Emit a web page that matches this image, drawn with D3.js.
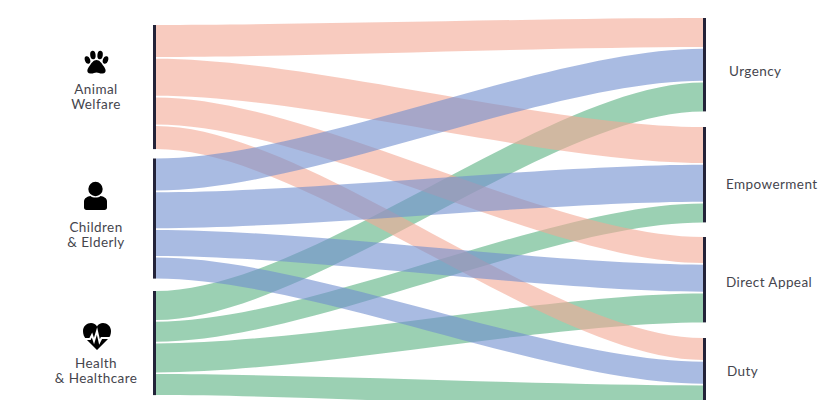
<!DOCTYPE html>
<html>
<head>
<meta charset="utf-8">
<script src="https://cdn.jsdelivr.net/npm/d3@7"></script>
<style>
  html, body { margin: 0; padding: 0; background: #fff; }
  text { font-family: Lato, sans-serif; font-size: 13.5px; fill: #45454d; letter-spacing: 0.42px; }
</style>
</head>
<body>
<div id="chart"></div>
<script>
var causes = ["Animal Welfare", "Children & Elderly", "Health & Healthcare"];
var causeLines = [["Animal", "Welfare"], ["Children", "& Elderly"], ["Health", "& Healthcare"]];
var appeals = ["Urgency", "Empowerment", "Direct Appeal", "Duty"];

// share of each cause going to each appeal, measured at the cause end (rows = cause)
var causeShares = [
  [32, 37, 27, 23],
  [32, 36, 26, 21],
  [29, 20, 29, 21]
];
// same flows measured at the appeal end (rows = cause too)
var appealShares = [
  [29, 36, 26, 22],
  [32, 37, 27, 22],
  [29, 19, 29, 24]
];

var colors = ["#f3a894", "#708ecf", "#58b180"];
var width = 840, height = 400;

var xLeft = 156, xRight = 703;
var y = d3.scaleLinear().domain([0, 1]).range([0, 1]); // one share unit = one pixel
var linkGap = 1.7;
var causeStart = [25, 158.5, 291];
var appealStart = [18, 127, 237, 338];

var svg = d3.select("#chart").append("svg")
    .attr("width", width)
    .attr("height", height)
    .style("display", "block");

// stack every flow at the cause end
var flows = [];
causes.forEach(function(c, i){
  var pos = causeStart[i];
  appeals.forEach(function(a, j){
    var h = y(causeShares[i][j]);
    flows.push({cause: i, appeal: j, y0: pos, y1: pos + h});
    pos += h + linkGap;
  });
});
// and at the appeal end
appeals.forEach(function(a, j){
  var pos = appealStart[j];
  causes.forEach(function(c, i){
    var h = y(appealShares[i][j]);
    var f = flows.find(function(d){ return d.cause == i && d.appeal == j; });
    f.t0 = pos;
    f.t1 = pos + h;
    pos += h + linkGap;
  });
});

function ribbon(d){
  var k = (xRight - xLeft) * 0.28;
  var p = d3.path();
  p.moveTo(xLeft, d.y0);
  p.bezierCurveTo(xLeft + k, d.y0, xRight - k, d.t0, xRight, d.t0);
  p.lineTo(xRight, d.t1);
  p.bezierCurveTo(xRight - k, d.t1, xLeft + k, d.y1, xLeft, d.y1);
  p.closePath();
  return p.toString();
}

// green goes under, then pink, then blue
var drawOrder = [2, 0, 1];
svg.append("g").selectAll("path")
  .data(flows.slice().sort(function(a, b){ return drawOrder.indexOf(a.cause) - drawOrder.indexOf(b.cause); }))
  .join("path")
    .attr("d", ribbon)
    .attr("fill", function(d){ return colors[d.cause]; })
    .attr("fill-opacity", 0.6);

// node bars
var barColor = "#232339";
var causeBars = causes.map(function(c, i){
  var f = flows.filter(function(d){ return d.cause == i; });
  return [d3.min(f, function(d){ return d.y0; }), d3.max(f, function(d){ return d.y1; })];
});
var appealBars = appeals.map(function(a, j){
  var f = flows.filter(function(d){ return d.appeal == j; });
  return [d3.min(f, function(d){ return d.t0; }), d3.max(f, function(d){ return d.t1; })];
});
svg.append("g").selectAll("rect").data(causeBars).join("rect")
    .attr("x", xLeft - 3).attr("width", 3)
    .attr("y", function(d){ return d[0]; })
    .attr("height", function(d){ return d[1] - d[0]; })
    .attr("fill", barColor);
svg.append("g").selectAll("rect").data(appealBars).join("rect")
    .attr("x", xRight).attr("width", 3)
    .attr("y", function(d){ return d[0]; })
    .attr("height", function(d){ return d[1] - d[0]; })
    .attr("fill", barColor);

// left labels
var causeLabelY = [94, 232, 368];
causes.forEach(function(c, i){
  var t = svg.append("text").attr("text-anchor", "middle");
  causeLines[i].forEach(function(line, n){
    t.append("tspan").attr("x", 96).attr("y", causeLabelY[i] + n * 14.5).text(line);
  });
});

// right labels
var appealLabelX = [729, 726, 726, 727];
var appealLabelY = [76, 189, 287, 376];
appeals.forEach(function(a, j){
  svg.append("text")
      .attr("x", appealLabelX[j])
      .attr("y", appealLabelY[j])
      .text(a);
});

// icons
var paw = svg.append("g").attr("transform", "translate(96.5,62)").attr("fill", "#000");
paw.append("ellipse").attr("cx", -9).attr("cy", -2).attr("rx", 2.6).attr("ry", 3.9).attr("transform", "rotate(-20 -9 -2)");
paw.append("ellipse").attr("cx", -3.6).attr("cy", -7).attr("rx", 2.7).attr("ry", 4.3).attr("transform", "rotate(-6 -3.6 -7)");
paw.append("ellipse").attr("cx", 3.6).attr("cy", -7).attr("rx", 2.7).attr("ry", 4.3).attr("transform", "rotate(6 3.6 -7)");
paw.append("ellipse").attr("cx", 9).attr("cy", -2).attr("rx", 2.6).attr("ry", 3.9).attr("transform", "rotate(20 9 -2)");
paw.append("path").attr("d", "M0,-2 C3,-2 5,1 7,4 C9,6.5 11,11 6,11.5 C3.5,11.8 2,10.5 0,10.5 C-2,10.5 -3.5,11.8 -6,11.5 C-11,11 -9,6.5 -7,4 C-5,1 -3,-2 0,-2 Z");

var person = svg.append("g").attr("transform", "translate(95.5,196)").attr("fill", "#000");
person.append("circle").attr("cy", -7).attr("r", 7.2);
person.append("path").attr("d", "M-11.5,14 C-11.5,14 -11.5,6 -11.5,5.5 C-11.5,2 -8,0.5 -5,0 C-3,2 3,2 5,0 C8,0.5 11.5,2 11.5,5.5 L11.5,11.5 C11.5,13 10.5,14 9,14 L-9,14 C-10.5,14 -11.5,13 -11.5,11.5 Z");

var heart = svg.append("g").attr("transform", "translate(97,336)");
heart.append("path").attr("fill", "#000")
    .attr("d", "M0,14 L-11,3 C-13,1 -14,-2 -14,-5 C-14,-10 -10,-13 -6,-13 C-3.5,-13 -1,-11.5 0,-9.5 C1,-11.5 3.5,-13 6,-13 C10,-13 14,-10 14,-5 C14,-2 13,1 11,3 Z");
heart.append("path").attr("fill", "none").attr("stroke", "#fff").attr("stroke-width", 1.9)
    .attr("d", "M-15,3 L-7,3 L-5,-1 L-3,5 L0,-5 L2.5,6 L4.5,2 L15,2");
</script>
</body>
</html>
